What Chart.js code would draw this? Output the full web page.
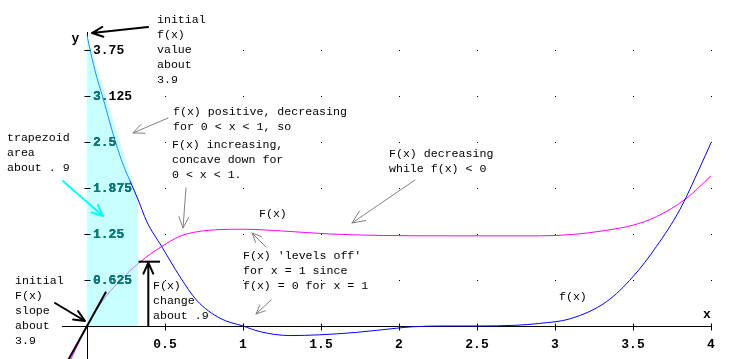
<!DOCTYPE html>
<html><head><meta charset="utf-8">
<script src="https://cdn.jsdelivr.net/npm/chart.js@4.4.1/dist/chart.umd.min.js"></script>
<style>html,body{margin:0;padding:0;background:#fff;}canvas{display:block;}</style>
</head><body>
<canvas id="c" width="730" height="359"></canvas>
<script>
// ---- data ----
const fX = [0, 0.015, 0.05, 0.105, 0.18, 0.23, 0.276, 0.327, 0.383, 0.479, 0.596, 0.703, 0.853, 1.0, 1.11, 1.3, 1.49, 1.73, 1.985, 2.09, 2.3, 2.5, 2.75, 2.9, 3.1, 3.33, 3.5, 3.65, 3.8, 3.93, 4.0];
const fY = [3.95, 3.8, 3.48, 3.08, 2.52, 2.2, 1.97, 1.72, 1.42, 1.08, 0.67, 0.35, 0.105, 0.0, -0.077, -0.13, -0.12, -0.086, -0.03, -0.01, 0, 0, 0.01, 0.035, 0.1, 0.33, 0.67, 1.08, 1.58, 2.16, 2.49];
const FX = [-0.11, 0, 0.083, 0.169, 0.34, 0.479, 0.596, 0.703, 0.853, 1.0, 1.26, 1.56, 1.9, 2.33, 2.9, 3.12, 3.33, 3.5, 3.65, 3.84, 4.0];
const FY = [-0.48, 0, 0.29, 0.52, 0.87, 1.08, 1.22, 1.28, 1.31, 1.315, 1.29, 1.25, 1.23, 1.225, 1.225, 1.245, 1.30, 1.37, 1.485, 1.73, 2.04];
const tangentX = [-0.125, 0.122];
const tangentY = [-0.48, 0.466];
const trapX = [0, 0, 0.327, 0.327];
const trapY = [0, 3.95, 1.72, 0];
const xTicks = [0.5, 1, 1.5, 2, 2.5, 3, 3.5, 4];
const xTickLabels = ['0.5', '1', '1.5', '2', '2.5', '3', '3.5', '4'];
const yTicks = [0.625, 1.25, 1.875, 2.5, 3.125, 3.75];
const yTickLabels = ['0.625', '1.25', '1.875', '2.5', '3.125', '3.75'];
const changeX = 0.393, changeTop = 0.874, changeBarX = [0.33, 0.468];

const pts = (xs, ys) => xs.map((x, i) => ({x, y: ys[i]}));

const MONO = '"Courier New", "Liberation Mono", monospace';
const noteFont = '11.6px ' + MONO;
const boldFont = 'bold 13px ' + MONO;

const notes = [
  {x: 157, y: 20, lines: ['initial', 'f(x)', 'value', 'about', '3.9']},
  {x: 173, y: 112, lines: ['f(x) positive, decreasing', 'for 0 < x < 1, so']},
  {x: 172, y: 145, lines: ['F(x) increasing,', 'concave down for', '0 < x < 1.']},
  {x: 389, y: 154, lines: ['F(x) decreasing', 'while f(x) < 0']},
  {x: 259, y: 214, lines: ['F(x)']},
  {x: 243, y: 256, lines: ["F(x) 'levels off'", 'for x = 1 since', 'f(x) = 0 for x = 1']},
  {x: 559, y: 297, lines: ['f(x)']},
  {x: 7, y: 138, lines: ['trapezoid', 'area', 'about . 9']},
  {x: 153, y: 286, lines: ['F(x)', 'change', 'about .9']},
  {x: 15, y: 281, lines: ['initial', 'F(x)', 'slope', 'about', '3.9']}
];
const arrows = [
  [148, 27, 92, 33, '#000', 2, 12],
  [168, 118, 133, 133, '#808080', 1, 12],
  [186, 188, 183, 228, '#808080', 1, 12],
  [415, 180, 352, 223, '#808080', 1, 14],
  [266, 247, 252, 233, '#808080', 1, 10],
  [271, 300, 256, 314, '#808080', 1, 10],
  [63, 181, 103, 216, '#00ffff', 2, 12],
  [55, 303, 85, 321, '#000', 2, 12]
];

function arrow(ctx, x1, y1, x2, y2, color, w, head) {
  ctx.save();
  ctx.strokeStyle = color; ctx.lineWidth = w; ctx.lineCap = 'round'; ctx.lineJoin = 'round';
  ctx.beginPath(); ctx.moveTo(x1, y1); ctx.lineTo(x2, y2);
  const a = Math.atan2(y2 - y1, x2 - x1), s = 0.42;
  ctx.moveTo(x2 - head * Math.cos(a - s), y2 - head * Math.sin(a - s));
  ctx.lineTo(x2, y2);
  ctx.lineTo(x2 - head * Math.cos(a + s), y2 - head * Math.sin(a + s));
  ctx.stroke(); ctx.restore();
}

const deco = {
  id: 'deco',
  beforeDatasetsDraw(chart) {
    const {ctx, scales: {x, y}} = chart;
    ctx.save(); ctx.fillStyle = '#000';
    xTicks.forEach(xv => yTicks.forEach(yv => {
      ctx.fillRect(Math.round(x.getPixelForValue(xv)), Math.round(y.getPixelForValue(yv)), 1, 1);
    }));
    ctx.restore();
  },
  afterDraw(chart) {
    const {ctx, scales: {x, y}} = chart;
    const x0 = Math.round(x.getPixelForValue(0)) + 0.5, y0 = Math.round(y.getPixelForValue(0)) + 0.5;
    ctx.save();
    ctx.strokeStyle = '#000'; ctx.lineWidth = 1; ctx.beginPath();
    yTicks.forEach(v => { const p = Math.round(y.getPixelForValue(v)) + 0.5; ctx.moveTo(x0 - 3, p); ctx.lineTo(x0 + 3, p); });
    xTicks.forEach(v => { const p = Math.round(x.getPixelForValue(v)) + 0.5; ctx.moveTo(p, y0 - 3); ctx.lineTo(p, y0 + 4); });
    ctx.stroke();
    ctx.font = boldFont; ctx.textBaseline = 'middle'; ctx.textAlign = 'left';
    const drawY = col => { ctx.fillStyle = col; yTicks.forEach((v, i) => ctx.fillText(yTickLabels[i], x0 + 5.5, y.getPixelForValue(v) + 0.5)); };
    drawY('#000');
    ctx.save();
    ctx.beginPath();
    trapX.forEach((v, i) => { const px = x.getPixelForValue(v), py = y.getPixelForValue(trapY[i]); i ? ctx.lineTo(px, py) : ctx.moveTo(px, py); });
    ctx.closePath(); ctx.clip();
    drawY('#008080');
    ctx.restore();
    ctx.fillStyle = '#000';
    ctx.textAlign = 'center';
    ctx.fillText('y', x0 - 12, 39);
    ctx.fillText('x', x.getPixelForValue(4) - 4, 315);
    ctx.font = noteFont; ctx.textAlign = 'left';
    notes.forEach(n => n.lines.forEach((t, i) => ctx.fillText(t, n.x, n.y + i * 15)));
    arrows.forEach(a => arrow(ctx, ...a));
    const cx = x.getPixelForValue(changeX), ct = y.getPixelForValue(changeTop);
    arrow(ctx, cx, y.getPixelForValue(0), cx, ct + 1, '#000', 2, 12);
    ctx.strokeStyle = '#000'; ctx.lineWidth = 2; ctx.beginPath();
    ctx.moveTo(x.getPixelForValue(changeBarX[0]), ct); ctx.lineTo(x.getPixelForValue(changeBarX[1]), ct); ctx.stroke();
    ctx.restore();
  }
};

new Chart(document.getElementById('c'), {
  type: 'line',
  data: {
    datasets: [
      {data: pts(trapX, trapY), borderWidth: 0, pointRadius: 0, fill: 'origin', backgroundColor: '#c8ffff', tension: 0, order: 10},
      {data: pts(fX, fY), borderColor: '#0000ff', borderWidth: 1, pointRadius: 0, fill: false, cubicInterpolationMode: 'monotone', order: 2,
        segment: {borderColor: c => (c.p0.parsed.x >= 0 && c.p1.parsed.x <= 0.30 ? '#1e90ff' : undefined)}},
      {data: pts(FX, FY), borderColor: '#ff00ff', borderWidth: 1, pointRadius: 0, fill: false, cubicInterpolationMode: 'monotone', order: 2,
        segment: {borderColor: c => (c.p0.parsed.x >= 0 && c.p1.parsed.x <= 0.34 ? '#c47cff' : undefined)}},
      {data: pts(tangentX, tangentY), borderColor: '#000', borderWidth: 2, pointRadius: 0, fill: false, tension: 0, order: 1}
    ]
  },
  options: {
    responsive: false, animation: false, devicePixelRatio: 1,
    layout: {padding: {top: 32, left: 62, right: 19, bottom: 0}},
    plugins: {legend: {display: false}, tooltip: {enabled: false}},
    scales: {
      x: {
        type: 'linear', min: -0.16026, max: 4, position: {y: 0}, z: 1,
        grid: {display: false}, border: {display: true, color: '#000', width: 1},
        afterFit: s => { s.height = 0; },
        afterBuildTicks: s => { s.ticks = xTicks.map(v => ({value: v})); },
        ticks: {padding: 3, color: '#000', font: {family: MONO, size: 13, weight: 'bold'}, maxRotation: 0, autoSkip: false,
          callback: (v) => { const i = xTicks.indexOf(v); return i >= 0 ? xTickLabels[i] : ''; }}
      },
      y: {
        type: 'linear', min: -0.4484, max: 3.995, position: {x: 0}, z: 1,
        grid: {display: false}, border: {display: true, color: '#000', width: 1},
        afterFit: s => { s.width = 0; },
        ticks: {display: false}
      }
    }
  },
  plugins: [deco]
});
</script>
</body></html>
